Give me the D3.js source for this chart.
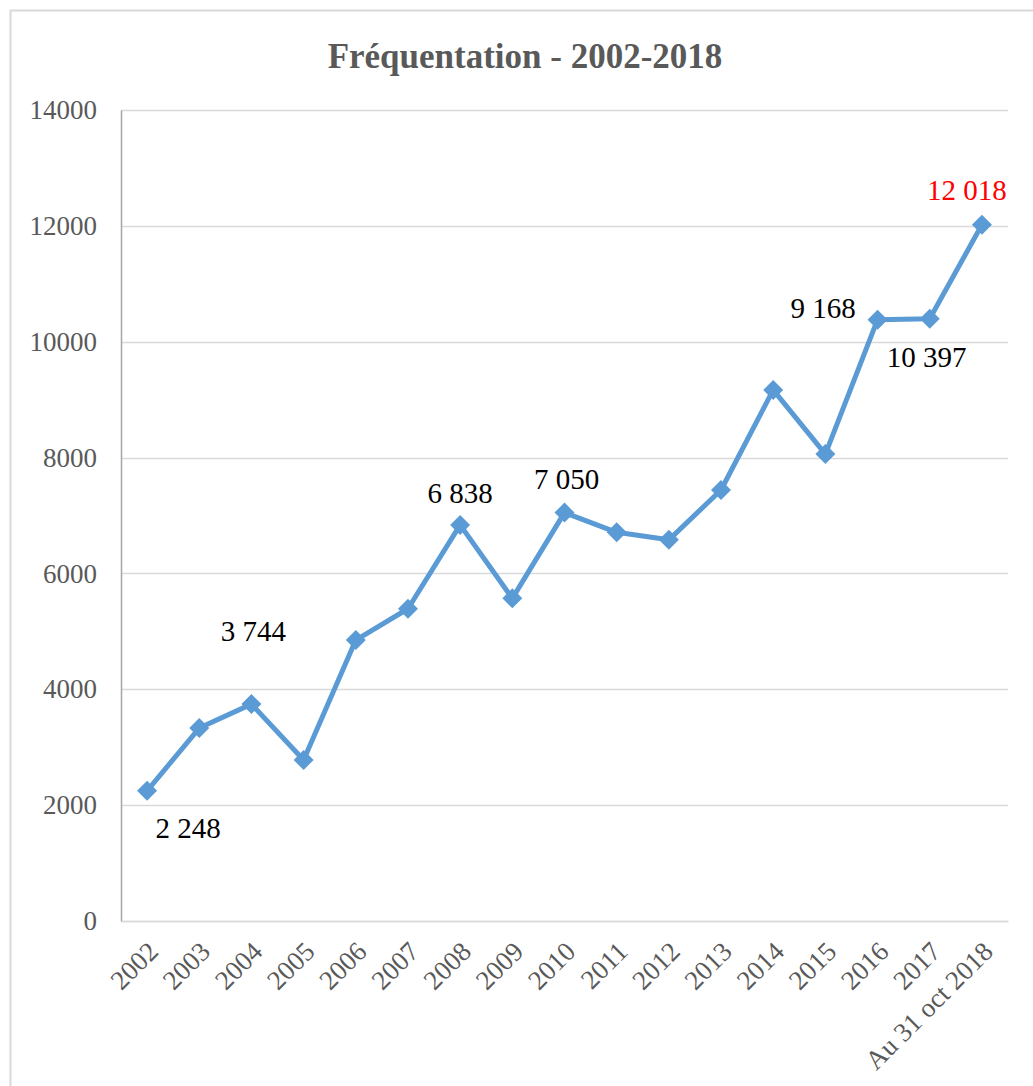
<!DOCTYPE html>
<html>
<head>
<meta charset="utf-8">
<script src="https://cdn.jsdelivr.net/npm/d3@7"></script>
<style>
  body { margin: 0; background: #fff; }
  svg { display: block; }
</style>
</head>
<body>
<div id="chart"></div>
<script>
// data
var years = ["2002","2003","2004","2005","2006","2007","2008","2009","2010",
             "2011","2012","2013","2014","2015","2016","2017","Au 31 oct 2018"];
var visitors = [2248, 3330, 3744, 2780, 4850, 5390, 6838, 5570, 7050,
                6710, 6580, 7440, 9168, 8060, 10380, 10397, 12018];
var yTicks = [0, 2000, 4000, 6000, 8000, 10000, 12000, 14000];
// which points carry a value label
var labelIdx = [0, 2, 6, 8, 12, 15, 16];
var labelText = ["2 248", "3 744", "6 838", "7 050", "9 168", "10 397", "12 018"];

// label nudges (Excel labels were dragged by hand)
var nudge = {0: [41, 37], 2: [2, -73], 6: [0, -32], 8: [2, -34], 12: [50, -82], 15: [-3, 38], 16: [-15, -35]};

var W = 1033, H = 1086;
var margin = {top: 110, right: 25, bottom: 165, left: 121};
var width = 1008 - margin.left,
    height = 921 - margin.top;

var svg = d3.select("#chart").append("svg")
  .attr("width", W)
  .attr("height", H);

// outer frame (cropped on right and bottom)
svg.append("rect")
  .attr("x", 10.5).attr("y", 10.5)
  .attr("width", W + 20).attr("height", H + 20)
  .attr("fill", "none")
  .attr("stroke", "#d9d9d9")
  .attr("stroke-width", 2);

svg.append("text")
  .attr("x", 525)
  .attr("y", 68)
  .attr("text-anchor", "middle")
  .style("font-family", "'Liberation Serif', serif")
  .style("font-weight", "bold")
  .style("font-size", "35px")
  .style("fill", "#595959")
  .text("Fréquentation - 2002-2018");

var g = svg.append("g")
  .attr("transform", "translate(" + margin.left + "," + margin.top + ")");

var x = d3.scalePoint()
  .domain(years)
  .range([0, width])
  .padding(0.5);

var y = d3.scaleLinear()
  .domain([0, 14000])
  .range([height, 0]);

// gridlines
g.append("g")
  .selectAll("line")
  .data(yTicks)
  .enter().append("line")
  .attr("x1", 0).attr("x2", width)
  .attr("y1", function(d) { return Math.round(y(d)) + 0.5; })
  .attr("y2", function(d) { return Math.round(y(d)) + 0.5; })
  .attr("stroke", "#d9d9d9")
  .attr("stroke-width", 1.5);

// y axis
var yAxis = g.append("g")
  .call(d3.axisLeft(y).tickValues(yTicks).tickSize(0).tickPadding(24).tickFormat(d3.format("d")));
yAxis.select(".domain").attr("stroke", "#a6a6a6").attr("stroke-width", 1.5);
yAxis.selectAll("text")
  .style("font-family", "'Liberation Serif', serif")
  .style("font-size", "27px")
  .style("fill", "#595959");

// x axis
var xAxis = g.append("g")
  .attr("transform", "translate(0," + height + ")")
  .call(d3.axisBottom(x).tickSize(0));
xAxis.select(".domain").attr("stroke", "#d9d9d9").attr("stroke-width", 1.5);
xAxis.selectAll("text")
  .style("font-family", "'Liberation Serif', serif")
  .style("font-size", "27px")
  .style("fill", "#595959")
  .style("text-anchor", "end")
  .attr("dx", "0")
  .attr("dy", "0")
  .attr("transform", "translate(10,30) rotate(-45)");

// line
var line = d3.line()
  .x(function(d, i) { return x(years[i]); })
  .y(function(d) { return y(d); });

g.append("path")
  .datum(visitors)
  .attr("d", line)
  .attr("fill", "none")
  .attr("stroke", "#5b9bd5")
  .attr("stroke-width", 5)
  .attr("stroke-linejoin", "round");

// diamond markers
g.selectAll(".dot")
  .data(visitors)
  .enter().append("path")
  .attr("class", "dot")
  .attr("d", d3.symbol().type(d3.symbolSquare).size(200))
  .attr("transform", function(d, i) {
    return "translate(" + x(years[i]) + "," + y(d) + ") rotate(45)";
  })
  .attr("fill", "#5b9bd5");

// value labels
g.selectAll(".lbl")
  .data(labelIdx)
  .enter().append("text")
  .attr("class", "lbl")
  .attr("x", function(d) { return x(years[d]) + nudge[d][0]; })
  .attr("y", function(d) { return y(visitors[d]) + nudge[d][1]; })
  .attr("text-anchor", "middle")
  .attr("dominant-baseline", "central")
  .style("font-family", "'Liberation Serif', serif")
  .style("font-size", "29px")
  .style("fill", function(d, i) { return i == labelIdx.length - 1 ? "#ff0000" : "#000"; })
  .text(function(d, i) { return labelText[i]; });
</script>
</body>
</html>
